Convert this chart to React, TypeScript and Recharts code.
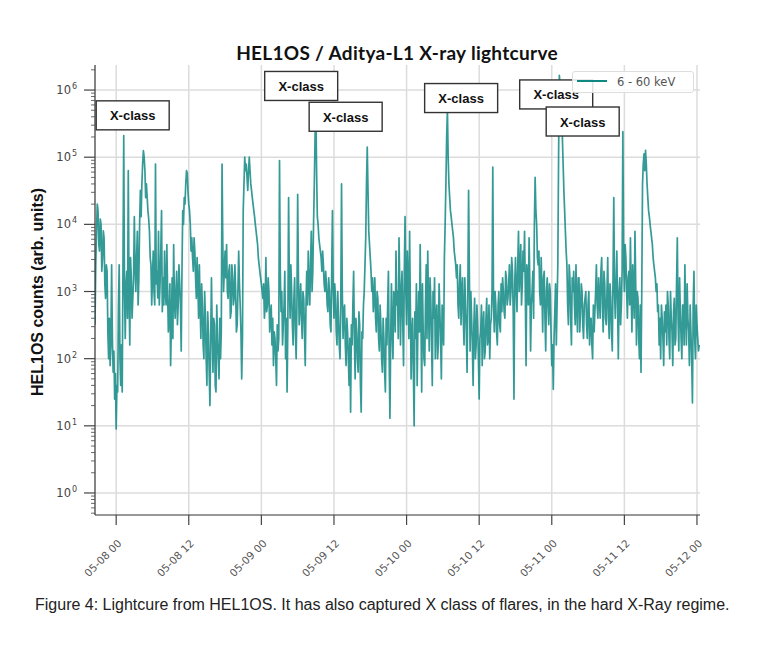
import { CartesianGrid, Legend, Line, LineChart, ReferenceDot, XAxis, YAxis } from "recharts";

// samples every 15 min (plus a half-step sample), hours counted from 05-08 00:00
const STEP = 0.25;
const segmentStarts = [-3.5, 21.5, 46.5, 71.5];

const countsSeg1 = [
  320, 7900, 16000, 4000, 10000, 3200, 6300, 790, 2000, 100,
  79, 2500, 63, 25, 9, 32, 2500, 40, 32, 210000,
  200, 2000, 63000, 160, 1600, 790, 13000, 1000, 7900, 1600,
  32000, 40000, 125000, 63000, 40000, 16000, 7900, 2500, 1600, 1000,
  79000, 2000, 7900, 1300, 16000, 1600, 4000, 630, 1000, 400,
  79, 1600, 5000, 400, 2000, 630, 1300, 130, 16000, 25000,
  40000, 58000, 20000, 10000, 6300, 2000, 4000, 790, 1300, 2500,
  200, 630, 100, 400, 40, 250, 20, 1600, 63, 320,
  32, 200, 50, 100, 79000, 1000, 4000, 5000, 790, 2500,
  500, 1600, 790, 1000, 320, 4000, 630, 50, 16000, 100000,
];
const midSeg1 = [
  2500, 20000, 5000, 12000, 2000, 8000, 1300, 2500, 250, 400,
  160, 200, 130, 60, 40, 600, 100, 160, 2500, 1000,
  1300, 400, 1000, 3200, 400, 1600, 2500, 3200, 630, 10000,
  13000, 80000, 100000, 25000, 25000, 12000, 3200, 630, 4000, 630,
  1300, 800, 630, 4000, 500, 630, 1000, 5000, 250, 1300,
  320, 200, 800, 1000, 320, 2500, 630, 2000, 10000, 20000,
  63000, 30000, 16000, 4000, 3200, 6300, 1600, 3200, 400, 630,
  1300, 160, 1000, 100, 500, 63, 200, 250, 400, 40,
  630, 100, 400, 250, 5000, 2000, 1600, 1000, 2000, 400,
  2500, 630, 2500, 250, 1000, 1300, 250, 200, 40000, 63000,
];
const countsSeg2 = [
  79000, 32000, 100000, 40000, 25000, 16000, 10000, 6300, 3200, 2000,
  1300, 790, 400, 3200, 630, 1000, 400, 160, 79, 200,
  40, 130, 89000, 500, 160, 630, 100, 32, 25000, 400,
  1000, 160, 1600, 100, 28000, 320, 1300, 200, 790, 79,
  2000, 4000, 630, 7900, 2000, 40000, 630000, 13000, 6300, 4000,
  2000, 2500, 1000, 1300, 500, 1000, 250, 16000, 400, 790,
  160, 400, 100, 40000, 200, 630, 79, 250, 40, 16,
  160, 2000, 50, 250, 63, 320, 16, 200, 1000, 6300,
  141000, 7900, 3200, 1000, 500, 1600, 250, 790, 130, 320,
  63, 200, 32, 160, 2000, 13, 1300, 100, 790, 4000,
];
const midSeg2 = [
  50000, 63000, 63000, 32000, 20000, 13000, 8000, 5000, 2500, 1600,
  1000, 1300, 630, 500, 1600, 250, 630, 400, 250, 100,
  320, 200, 2000, 1000, 320, 2000, 400, 320, 1300, 2500,
  320, 790, 250, 630, 1600, 630, 400, 1000, 250, 630,
  630, 1300, 2500, 1000, 10000, 200000, 63000, 10000, 5000, 3200,
  4000, 1300, 2000, 630, 1600, 320, 2000, 1000, 1300, 250,
  1000, 160, 630, 1000, 500, 160, 400, 100, 200, 320,
  630, 200, 400, 100, 500, 40, 250, 630, 2500, 40000,
  32000, 5000, 2000, 1600, 800, 400, 1000, 200, 630, 100,
  400, 63, 400, 630, 100, 200, 250, 1000, 250, 630,
];
const countsSeg3 = [
  1000, 6300, 160, 2000, 79, 13000, 320, 1600, 7900, 50,
  400, 10, 200, 40, 1000, 5000, 32, 250, 79, 2500,
  4000, 130, 790, 40, 400, 100, 630, 160, 500, 50,
  320, 3200, 40000, 500000, 40000, 16000, 10000, 6300, 3200, 1600,
  630, 1300, 320, 1600, 160, 630, 63, 32000, 130, 400,
  40, 790, 160, 320, 25, 250, 79, 500, 130, 790,
  200, 100, 400, 71000, 250, 630, 160, 1000, 250, 500,
  1000, 400, 1600, 790, 2500, 1000, 2000, 25, 3200, 500,
  7900, 2000, 630, 4000, 7900, 79, 1600, 6300, 130, 1000,
  400, 50000, 10000, 2500, 1000, 3200, 250, 2000, 130, 1600,
];
const midSeg3 = [
  200, 1300, 1000, 320, 2000, 1000, 4000, 200, 630, 250,
  63, 500, 1300, 320, 250, 400, 1300, 100, 630, 200,
  630, 1600, 200, 1000, 1600, 400, 100, 1300, 200, 630,
  160, 10000, 200000, 100000, 25000, 13000, 8000, 4000, 2500, 2500,
  400, 2500, 1000, 400, 1600, 250, 1000, 2000, 1000, 160,
  320, 100, 630, 100, 200, 630, 320, 100, 400, 160,
  630, 320, 1000, 630, 1000, 250, 630, 320, 1300, 1600,
  500, 2000, 630, 1300, 630, 3200, 500, 1300, 1000, 2500,
  1000, 5000, 1300, 2000, 1000, 2500, 630, 1300, 630, 2000,
  10000, 16000, 3200, 4000, 630, 1000, 1600, 400, 1000, 630,
];
const countsSeg4 = [
  320, 1000, 79, 35, 500, 160, 2500, 1660000, 790000, 200000,
  32000, 7900, 2500, 320, 1600, 160, 1000, 630, 2500, 250,
  1600, 500, 1000, 200, 790, 320, 630, 160, 400, 100,
  250, 1000, 630, 1600, 400, 3200, 250, 1300, 320, 3200,
  200, 790, 130, 25000, 400, 4000, 100, 1600, 630, 240000,
  1000, 3200, 400, 2000, 6300, 250, 1000, 7900, 160, 790,
  100, 63, 40000, 112000, 126000, 40000, 16000, 10000, 6300, 3200,
  2000, 1000, 500, 160, 100, 400, 79, 250, 160, 630,
  100, 400, 79, 790, 200, 6300, 130, 500, 100, 630,
  2500, 160, 400, 79, 250, 22, 2000, 100, 320, 130,
];
const midSeg4 = [
  1300, 250, 160, 200, 1300, 630, 100000, 1200000, 400000, 80000,
  16000, 4000, 630, 2500, 400, 1600, 2000, 320, 630, 1600,
  250, 1300, 320, 630, 1000, 200, 1000, 400, 160, 630,
  500, 2500, 400, 790, 2000, 630, 2000, 400, 1000, 400,
  1300, 250, 1600, 1000, 1300, 630, 1000, 320, 2000, 3200,
  5000, 1000, 1600, 630, 1000, 2500, 400, 1300, 1000, 200,
  630, 1000, 80000, 63000, 79000, 25000, 13000, 8000, 5000, 2500,
  1600, 1300, 630, 400, 630, 200, 500, 630, 1000, 200,
  1000, 250, 500, 160, 1300, 400, 1600, 200, 630, 160,
  500, 1300, 250, 630, 100, 630, 200, 630, 200, 160,
];

const xTicks = [0, 12, 24, 36, 48, 60, 72, 84, 96];
const majorTicks = [1, 10, 100, 1000, 10000, 100000, 1000000];
const minorSteps = [2, 3, 4, 5, 6, 7, 8, 9];
const superscripts = ["0", "1", "2", "3", "4", "5", "6"];

// X-class annotation boxes (hour, counts)
const xClassHours = [2.73, 30.58, 37.93, 57.02, 72.73, 77.11];
const xClassCounts = [420000, 1150000, 400000, 760000, 860000, 340000];

const segments = [countsSeg1, countsSeg2, countsSeg3, countsSeg4];
const mids = [midSeg1, midSeg2, midSeg3, midSeg4];
const data = segments.flatMap((seg, s) =>
  seg.flatMap((v, i) => [
    { t: segmentStarts[s] + i * STEP, v },
    { t: segmentStarts[s] + i * STEP + STEP / 2, v: mids[s][i] },
  ])
);

const yTicks: number[] = [];
[0.1, ...majorTicks].forEach((base) => {
  if (base >= 1) yTicks.push(base);
  minorSteps.forEach((k) => {
    const val = k * base;
    if (val > 0.47 && val < 2.36e6) yTicks.push(val);
  });
});

const PLOT_LEFT = 95;
const PLOT_BOTTOM = 515;
const TEAL = "#0f8884";

function dateLabel(h: number) {
  const day = 8 + Math.floor(h / 24);
  const hh = h - 24 * Math.floor(h / 24);
  return `05-${String(day).padStart(2, "0")} ${String(hh).padStart(2, "0")}`;
}

function YTick(props: any) {
  const { y, payload } = props;
  const idx = majorTicks.indexOf(payload.value);
  const major = idx >= 0;
  return (
    <g>
      <line
        x1={PLOT_LEFT - (major ? 11 : 4)}
        x2={PLOT_LEFT}
        y1={y}
        y2={y}
        stroke="#444"
        strokeWidth={major ? 1.2 : 0.8}
      />
      {major && (
        <text x={PLOT_LEFT - 24} y={y + 4} textAnchor="end" fontSize={11.5} fill="#444" fontFamily="DejaVu Sans">
          10
        </text>
      )}
      {major && (
        <text x={PLOT_LEFT - 23} y={y - 1} textAnchor="start" fontSize={8} fill="#444" fontFamily="DejaVu Sans">
          {superscripts[idx]}
        </text>
      )}
    </g>
  );
}

function XTick(props: any) {
  const { x, payload } = props;
  const ax = x + 6;
  const ay = PLOT_BOTTOM + 29;
  return (
    <g>
      <line x1={x} x2={x} y1={PLOT_BOTTOM} y2={PLOT_BOTTOM + 10} stroke="#444" strokeWidth={1.2} />
      <text
        x={ax}
        y={ay}
        textAnchor="end"
        transform={`rotate(-45 ${ax} ${ay})`}
        fontSize={10.5}
        fill="#555"
        fontFamily="DejaVu Sans"
      >
        {dateLabel(payload.value)}
      </text>
    </g>
  );
}

function XClassBox(props: any) {
  const { cx, cy } = props;
  return (
    <g>
      <rect x={cx - 36.5} y={cy - 14.5} width={73} height={29} fill="#fff" stroke="#333" strokeWidth={1.4} />
      <text
        x={cx}
        y={cy + 5}
        textAnchor="middle"
        fontSize={13}
        fontWeight={700}
        fill="#111"
        fontFamily="Liberation Sans, Arial"
      >
        X-class
      </text>
    </g>
  );
}

function LegendBox() {
  return (
    <div
      style={{
        width: 122,
        height: 22,
        boxSizing: "border-box",
        border: "1px solid #ddd",
        borderRadius: 3,
        background: "rgba(255,255,255,0.85)",
        display: "flex",
        alignItems: "center",
      }}
    >
      <svg width={44} height={20}>
        <line x1={4} x2={34} y1={9} y2={9} stroke={TEAL} strokeWidth={2} />
      </svg>
      <span style={{ fontFamily: "DejaVu Sans", fontSize: 11.5, color: "#555" }}>6 - 60 keV</span>
    </div>
  );
}

export default function App() {
  return (
    <div style={{ position: "absolute", left: 0, top: 0, width: 777, height: 667, background: "#fff" }}>
      <LineChart width={777} height={667} data={data} margin={{ top: 65, right: 77, bottom: 92, left: 35 }}>
        <CartesianGrid stroke="#dcdcdc" strokeWidth={1.5} horizontalValues={majorTicks} verticalValues={xTicks} />
        <XAxis
          dataKey="t"
          type="number"
          domain={[-3.5, 96.5]}
          ticks={xTicks}
          interval={0}
          height={60}
          tickLine={false}
          axisLine={{ stroke: "#333", strokeWidth: 1.2 }}
          tick={<XTick />}
          allowDataOverflow
        />
        <XAxis xAxisId="top" orientation="top" type="number" domain={[-3.5, 96.5]} height={0} tick={false} tickLine={false} axisLine={{ stroke: "#888", strokeWidth: 1.2 }} />
        <YAxis
          type="number"
          scale="log"
          domain={[0.47, 2.36e6]}
          ticks={yTicks}
          interval={0}
          width={60}
          tickLine={false}
          axisLine={{ stroke: "#333", strokeWidth: 1.2 }}
          tick={<YTick />}
          allowDataOverflow
        />
        <YAxis yAxisId="right" orientation="right" width={0} tick={false} tickLine={false} axisLine={{ stroke: "#777", strokeWidth: 1.5 }} />
        <Line
          type="linear"
          dataKey="v"
          stroke={TEAL}
          strokeWidth={1.7}
          strokeOpacity={0.85}
          strokeLinejoin="round"
          dot={false}
          isAnimationActive={false}
        />
        {xClassHours.map((h, i) => (
          <ReferenceDot key={i} x={h} y={xClassCounts[i]} ifOverflow="visible" shape={<XClassBox />} />
        ))}
        <Legend
          layout="horizontal"
          verticalAlign="middle"
          align="center"
          wrapperStyle={{ left: 572, top: 71, width: 122, height: 22 }}
          content={() => <LegendBox />}
        />
      </LineChart>
      <div
        style={{
          position: "absolute",
          left: 397,
          top: 41,
          transform: "translateX(-50%)",
          whiteSpace: "nowrap",
          fontFamily: "Lato",
          fontWeight: 700,
          fontSize: 19,
          letterSpacing: 0.3,
          color: "#111",
        }}
      >
        HEL1OS / Aditya-L1 X-ray lightcurve
      </div>
      <div
        style={{
          position: "absolute",
          left: 38,
          top: 292,
          transform: "translate(-50%, -50%) rotate(-90deg)",
          whiteSpace: "nowrap",
          fontFamily: "Liberation Sans, Arial",
          fontWeight: 700,
          fontSize: 16,
          color: "#111",
        }}
      >
        HEL1OS counts (arb. units)
      </div>
      <div
        style={{
          position: "absolute",
          left: 35,
          top: 596,
          whiteSpace: "nowrap",
          fontFamily: "Liberation Sans, Arial",
          fontSize: 16,
          color: "#222",
        }}
      >
        Figure 4: Lightcure from HEL1OS. It has also captured X class of flares, in the hard X-Ray regime.
      </div>
    </div>
  );
}
